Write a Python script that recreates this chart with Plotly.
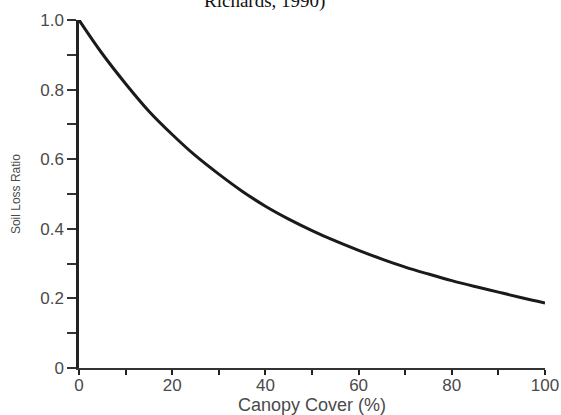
import plotly.graph_objects as go

canopy_cover = [0, 5, 10, 15, 20, 25, 30, 35, 40, 45, 50, 55, 60, 65, 70, 75, 80, 85, 90, 95, 100]
soil_loss_ratio = [1.0, 0.903, 0.817, 0.738, 0.671, 0.610, 0.557, 0.508, 0.465, 0.428, 0.395, 0.365,
                   0.338, 0.313, 0.290, 0.270, 0.251, 0.234, 0.218, 0.202, 0.187]
x_ticks = [0, 20, 40, 60, 80, 100]
y_ticks = [0, 0.2, 0.4, 0.6, 0.8, 1.0]
y_tick_text = ["0", "0.2", "0.4", "0.6", "0.8", "1.0"]

fig = go.Figure()
fig.add_trace(go.Scatter(x=canopy_cover, y=soil_loss_ratio, mode="lines",
                         line=dict(color="#1a1a1a", width=3, shape="spline"),
                         showlegend=False, cliponaxis=False))

tick_font = dict(family="Liberation Sans, Arial, sans-serif", size=17, color="#4a4a4a")

fig.update_layout(
    width=561, height=415,
    margin=dict(l=79, r=16, t=20, b=47, autoexpand=False),
    paper_bgcolor="white", plot_bgcolor="white",
    xaxis=dict(range=[0, 100], tickvals=x_ticks, ticks="outside", ticklen=5, tickwidth=2,
               tickcolor="#222222", showline=True, linecolor="#333333", linewidth=1.5,
               showgrid=False, zeroline=False, tickfont=tick_font, automargin=False,
               ticklabelstandoff=-4,
               minor=dict(dtick=10, ticks="outside", ticklen=5, tickwidth=2, tickcolor="#222222", showgrid=False)),
    yaxis=dict(range=[0, 1.0], tickvals=y_ticks, ticktext=y_tick_text, ticks="outside", ticklen=9,
               tickwidth=1.5, tickcolor="#333333", showline=True, linecolor="#222222", linewidth=2.5,
               showgrid=False, zeroline=False, tickfont=tick_font, automargin=False,
               minor=dict(dtick=0.1, ticks="outside", ticklen=9, tickwidth=1.5, tickcolor="#333333", showgrid=False)),
    annotations=[
        dict(text="Canopy Cover (%)", xref="paper", yref="paper", x=0.5, y=-0.106,
             xanchor="center", yanchor="middle",
             showarrow=False, font=dict(family="Liberation Sans, Arial, sans-serif", size=18, color="#4a4a4a")),
        dict(text="Soil Loss Ratio", xref="paper", yref="paper", x=-0.135, y=0.5, textangle=-90,
             xanchor="center", yanchor="middle",
             showarrow=False, font=dict(family="Liberation Sans, Arial, sans-serif", size=12, color="#4a4a4a")),
        dict(text="Richards, 1990)", xref="paper", yref="paper", x=0.397, y=1.016,
             xanchor="center", yanchor="bottom",
             showarrow=False, font=dict(family="Liberation Serif, Times New Roman, serif", size=19, color="#111111")),
    ],
)

fig.write_html("out.html", config={"displayModeBar": False},
               post_script="document.body.style.margin='0';")
